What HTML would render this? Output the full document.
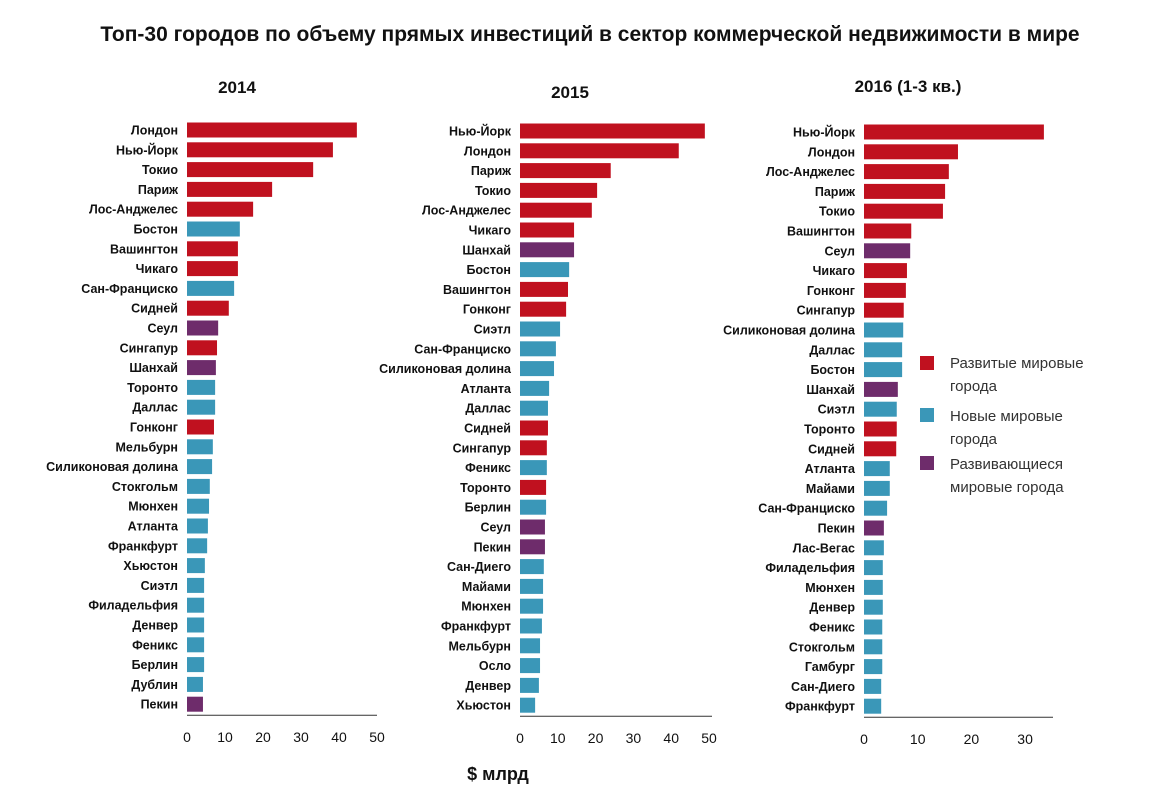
<!DOCTYPE html>
<html><head><meta charset="utf-8"><style>
body{margin:0;background:#fff;}
svg text{font-family:"Liberation Sans",sans-serif;}
</style></head><body>
<svg id="chart" width="1150" height="788" xmlns="http://www.w3.org/2000/svg">
<text x="590" y="41" text-anchor="middle" font-size="21" font-weight="bold" fill="#111">Топ-30 городов по объему прямых инвестиций в сектор коммерческой недвижимости в мире</text>
<text x="498" y="780" text-anchor="middle" font-size="18" font-weight="bold" fill="#111">$ млрд</text>
<g>
<rect x="920" y="356" width="14" height="14" fill="#c0111f"/>
<text x="950" y="368" font-size="15" fill="#333">Развитые мировые</text>
<text x="950" y="391" font-size="15" fill="#333">города</text>
<rect x="920" y="408" width="14" height="14" fill="#3a97b8"/>
<text x="950" y="421" font-size="15" fill="#333">Новые мировые</text>
<text x="950" y="444" font-size="15" fill="#333">города</text>
<rect x="920" y="456" width="14" height="14" fill="#6e2c6b"/>
<text x="950" y="469" font-size="15" fill="#333">Развивающиеся</text>
<text x="950" y="492" font-size="15" fill="#333">мировые города</text>
</g>
</svg>
<script>
const cities2014=["Лондон","Нью-Йорк","Токио","Париж","Лос-Анджелес","Бостон","Вашингтон","Чикаго","Сан-Франциско","Сидней","Сеул","Сингапур","Шанхай","Торонто","Даллас","Гонконг","Мельбурн","Силиконовая долина","Стокгольм","Мюнхен","Атланта","Франкфурт","Хьюстон","Сиэтл","Филадельфия","Денвер","Феникс","Берлин","Дублин","Пекин"];
const values2014=[44.7,38.4,33.2,22.4,17.4,13.9,13.4,13.4,12.4,11,8.2,7.9,7.6,7.4,7.4,7.1,6.8,6.6,6,5.8,5.5,5.3,4.7,4.5,4.5,4.5,4.5,4.5,4.2,4.2];
const types2014="rrrrrbrrbrprpbbrbbbbbbbbbbbbbp";
const cities2015=["Нью-Йорк","Лондон","Париж","Токио","Лос-Анджелес","Чикаго","Шанхай","Бостон","Вашингтон","Гонконг","Сиэтл","Сан-Франциско","Силиконовая долина","Атланта","Даллас","Сидней","Сингапур","Феникс","Торонто","Берлин","Сеул","Пекин","Сан-Диего","Майами","Мюнхен","Франкфурт","Мельбурн","Осло","Денвер","Хьюстон"];
const values2015=[48.9,42,24,20.4,19,14.3,14.3,13,12.7,12.2,10.6,9.5,9,7.7,7.4,7.4,7.1,7.1,6.9,6.9,6.6,6.6,6.3,6.1,6.1,5.8,5.3,5.3,5,4];
const types2015="rrrrrrpbrrbbbbbrrbrbppbbbbbbbb";
const cities2016=["Нью-Йорк","Лондон","Лос-Анджелес","Париж","Токио","Вашингтон","Сеул","Чикаго","Гонконг","Сингапур","Силиконовая долина","Даллас","Бостон","Шанхай","Сиэтл","Торонто","Сидней","Атланта","Майами","Сан-Франциско","Пекин","Лас-Вегас","Филадельфия","Мюнхен","Денвер","Феникс","Стокгольм","Гамбург","Сан-Диего","Франкфурт"];
const values2016=[33.5,17.5,15.8,15.1,14.7,8.8,8.6,8,7.8,7.4,7.3,7.1,7.1,6.3,6.1,6.1,6,4.8,4.8,4.3,3.7,3.7,3.5,3.5,3.5,3.4,3.4,3.4,3.2,3.2];
const types2016="rrrrrrprrrbbbpbrrbbbpbbbbbbbbb";
const ticks2014=[0,10,20,30,40,50];
const ticks2015=[0,10,20,30,40,50];
const ticks2016=[0,10,20,30];
const colors={r:"#c0111f",b:"#3a97b8",p:"#6e2c6b"};
const NS="http://www.w3.org/2000/svg";
const svg=document.getElementById("chart");
function mk(tag,attrs,parent){const e=document.createElementNS(NS,tag);for(const k in attrs)e.setAttribute(k,attrs[k]);parent.appendChild(e);return e;}
function panel(id,year,yx,yy,cities,values,types,ticks,x0,ppu,y0,axisEnd){
  const g=mk("g",{},svg);
  
  
  const xs=v=>x0+v*ppu;
  const ys=i=>y0+i*19.8;
  const t=mk("text",{x:yx,y:yy,"text-anchor":"middle","font-size":17,"font-weight":"bold",fill:"#111"},g);
  t.textContent=year;
  
  
  cities.forEach((c,i)=>{
    const r=mk("rect",{x:x0,y:ys(i)-7.5,width:xs(values[i])-x0,height:15,fill:colors[types[i]]},g);
    
    
    const l=mk("text",{x:x0-9,y:ys(i)+4.5,"text-anchor":"end","font-size":12.5,"font-weight":"bold",fill:"#111"},g);
    l.textContent=c;
    
    
  });
  const ay=ys(cities.length-1)+11;
  const ax=mk("line",{x1:x0,x2:axisEnd,y1:ay,y2:ay,stroke:"#333","stroke-width":1},g);
  
  
  ticks.forEach(v=>{
    const tl=mk("text",{x:xs(v),y:ay+27,"text-anchor":"middle","font-size":14,fill:"#111"},g);
    tl.textContent=v;
    
    
  });
}
panel("2014","2014",237,93,cities2014,values2014,types2014,ticks2014,187,3.8,130,377);
panel("2015","2015",570,98,cities2015,values2015,types2015,ticks2015,520,3.78,131,712);
panel("2016","2016 (1-3 кв.)",908,92,cities2016,values2016,types2016,ticks2016,864,5.37,132,1053);
</script>
</body></html>
